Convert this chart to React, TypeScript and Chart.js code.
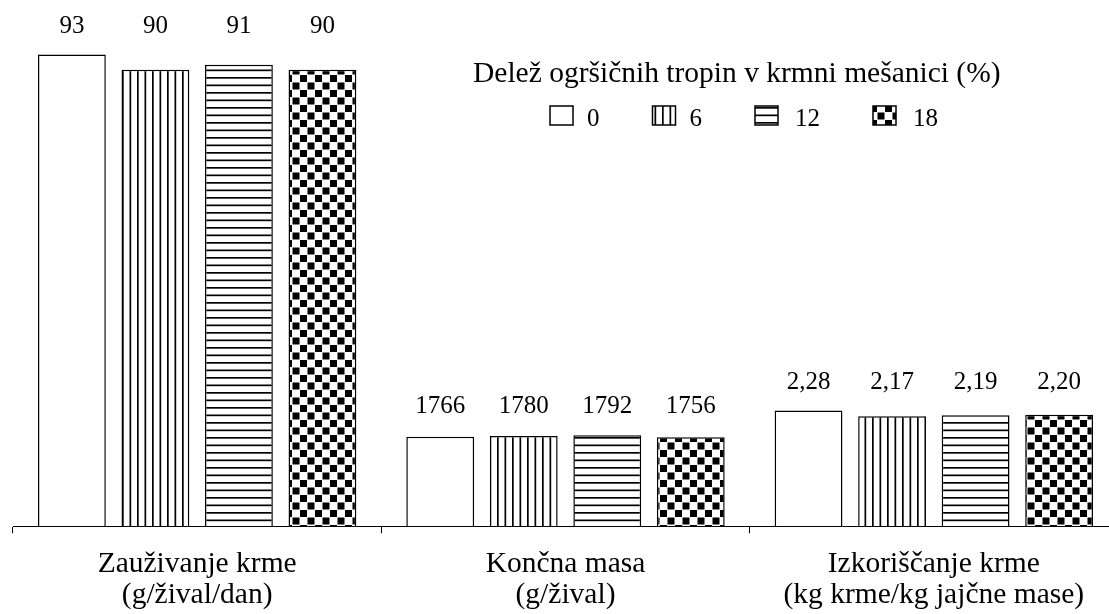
import React, { useEffect, useRef } from "react";
import { Chart, registerables } from "chart.js";

Chart.register(...registerables);

// ---- data ----
const categories: string[][] = [
  ["Zauživanje krme", "(g/žival/dan)"],
  ["Končna masa", "(g/žival)"],
  ["Izkoriščanje krme", "(kg krme/kg jajčne mase)"],
];
const seriesNames = ["0", "6", "12", "18"];
const share0 = [93, 1766, 2.28];
const share6 = [90, 1780, 2.17];
const share12 = [91, 1792, 2.19];
const share18 = [90, 1756, 2.2];
// each group is drawn in its own unit in the original figure
const drawScale = [1, 0.01, 10];
const decimals = [0, 0, 2];
const legendTitle = "Delež ogršičnih tropin v krmni mešanici (%)";

const FONT = '"Liberation Serif", "Times New Roman", serif';

function makeTile(size: number, draw: (c: CanvasRenderingContext2D) => void) {
  const cv = document.createElement("canvas");
  cv.width = size;
  cv.height = size;
  const c = cv.getContext("2d")!;
  c.fillStyle = "#fff";
  c.fillRect(0, 0, size, size);
  draw(c);
  return cv;
}

function makePatterns(ctx: CanvasRenderingContext2D) {
  const vert = makeTile(15, (c) => {
    c.fillStyle = "#000";
    c.fillRect(2, 0, 1.7, 15);
    c.fillRect(9.5, 0, 1.7, 15);
  });
  const horiz = makeTile(15, (c) => {
    c.fillStyle = "#000";
    c.fillRect(0, 2, 15, 1.7);
    c.fillRect(0, 9.5, 15, 1.7);
  });
  const check = makeTile(15, (c) => {
    c.fillStyle = "#000";
    c.fillRect(0, 0, 7, 7);
    c.fillRect(7.5, 7.5, 7, 7);
  });
  return [
    "#ffffff",
    ctx.createPattern(vert, "repeat")!,
    ctx.createPattern(horiz, "repeat")!,
    ctx.createPattern(check, "repeat")!,
  ];
}

const formatValue = (v: number, i: number) =>
  v.toFixed(decimals[i]).replace(".", ",");

export default function App() {
  const ref = useRef<HTMLCanvasElement | null>(null);

  useEffect(() => {
    document.body.style.margin = "0";
    document.body.style.overflow = "hidden";
    document.documentElement.style.overflow = "hidden";
    const canvas = ref.current!;
    const ctx = canvas.getContext("2d")!;
    const fills = makePatterns(ctx);
    const raw = [share0, share6, share12, share18];

    const valueLabels = {
      id: "valueLabels",
      afterDatasetsDraw(chart: any) {
        const c = chart.ctx;
        c.save();
        c.font = `25px ${FONT}`;
        c.fillStyle = "#000";
        c.textAlign = "center";
        c.textBaseline = "alphabetic";
        const metas = chart.data.datasets.map((_: any, di: number) =>
          chart.getDatasetMeta(di)
        );
        categories.forEach((_, i) => {
          const top = Math.min(...metas.map((m: any) => m.data[i].y));
          metas.forEach((m: any, di: number) => {
            c.fillText(formatValue(raw[di][i], i), m.data[i].x, top - 22);
          });
        });
        c.restore();
      },
    };

    const customLegend = {
      id: "customLegend",
      afterDraw(chart: any) {
        const c = chart.ctx;
        c.save();
        c.fillStyle = "#000";
        c.font = `29.5px ${FONT}`;
        c.textAlign = "left";
        c.textBaseline = "alphabetic";
        c.fillText(legendTitle, 473, 82);
        c.font = `25px ${FONT}`;
        let x = 550;
        chart.data.datasets.forEach((ds: any) => {
          c.fillStyle = ds.backgroundColor;
          c.fillRect(x, 106, 23, 19);
          c.strokeStyle = "#000";
          c.lineWidth = 1.5;
          c.strokeRect(x, 106, 23, 19);
          c.fillStyle = "#000";
          const w = c.measureText(ds.label).width;
          const gap = ds.label.length > 1 ? 40 : 37;
          c.fillText(ds.label, x + gap, 126);
          x += gap + w + 53;
        });
        c.restore();
      },
    };

    const chart = new Chart(canvas, {
      type: "bar",
      data: {
        labels: categories,
        datasets: raw.map((vals, di) => ({
          label: seriesNames[di],
          data: vals.map((v, i) => v * drawScale[i]),
          backgroundColor: fills[di] as any,
          borderColor: "#000",
          borderWidth: 1.5,
          categoryPercentage: 0.907,
          barPercentage: 0.812,
        })),
      },
      options: {
        responsive: true,
        maintainAspectRatio: false,
        animation: false,
        layout: { padding: { left: 13, right: 12, top: 19, bottom: 0 } },
        plugins: {
          legend: { display: false },
          tooltip: { enabled: false },
        },
        scales: {
          x: {
            border: { display: true, color: "#000", width: 1 },
            grid: {
              display: true,
              offset: true,
              drawOnChartArea: false,
              drawTicks: true,
              tickLength: 7,
              color: "#000",
            },
            ticks: {
              color: "#000",
              padding: 16,
              maxRotation: 0,
              font: { family: FONT, size: 29.5, lineHeight: 1.03 },
            },
          },
          y: { display: false, min: 0, max: 100 },
        },
      },
      plugins: [valueLabels, customLegend],
    });
    return () => chart.destroy();
  }, []);

  return (
    <div style={{ position: "relative", width: 1130, height: 626 }}>
      <canvas ref={ref} />
    </div>
  );
}
